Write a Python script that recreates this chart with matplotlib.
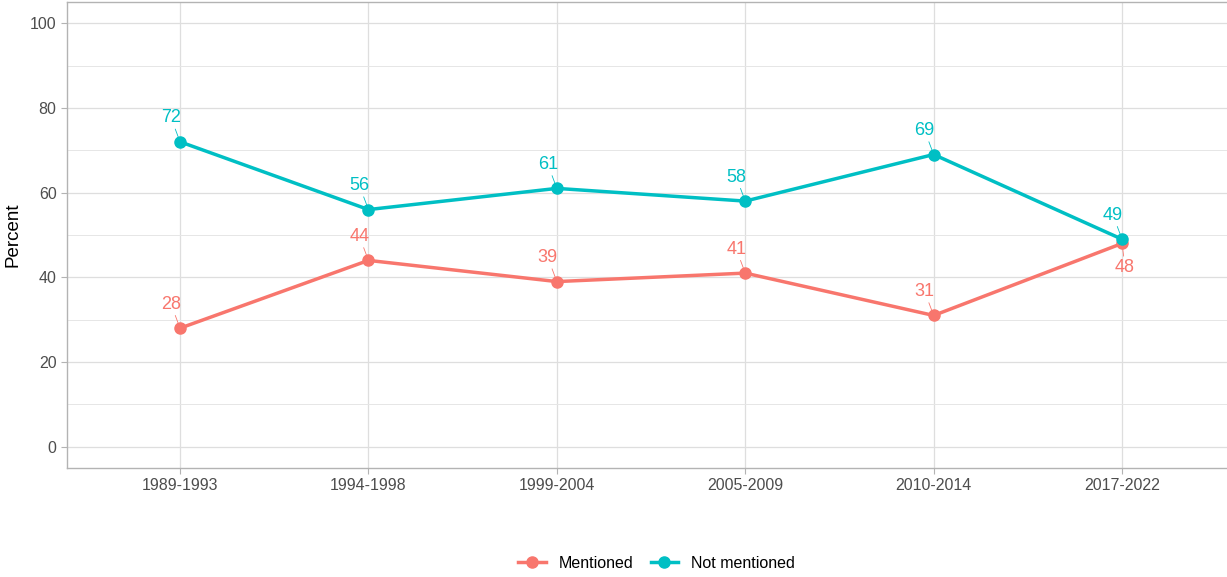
import matplotlib
matplotlib.use("Agg")
import matplotlib.pyplot as plt
from matplotlib.ticker import MultipleLocator

plt.rcParams["font.family"] = ["Liberation Sans", "DejaVu Sans"]

periods = ["1989-1993", "1994-1998", "1999-2004", "2005-2009", "2010-2014", "2017-2022"]
mentioned = [28, 44, 39, 41, 31, 48]
not_mentioned = [72, 56, 61, 58, 69, 49]
COL = {"Mentioned": "#F8766D", "Not mentioned": "#00BFC4"}

fig = plt.figure(figsize=(12.27, 5.77), dpi=100)
ax = fig.add_axes([0.0546, 0.189, 0.952, 0.8075])
x = list(range(1, len(periods) + 1))

for name, vals in [("Mentioned", mentioned), ("Not mentioned", not_mentioned)]:
    c = COL[name]
    ax.plot(x, vals, color=c, lw=2.5, marker="o", ms=8, label=name, zorder=3)
    for i, (xi, v) in enumerate(zip(x, vals)):
        off = (-9, 24)
        if name == "Mentioned" and i == len(x) - 1:
            off = (3, -24)
        ax.annotate(str(v), (xi, v), xytext=off, textcoords="offset pixels",
                    ha="center", va="center", fontsize=13, color=c,
                    arrowprops=dict(arrowstyle="-", color=c, lw=0.6, shrinkA=0, shrinkB=3))

ax.set_xlim(0.4, 6.6)
ax.set_ylim(-5, 105)
ax.set_xticks(x)
ax.set_xticklabels(periods)
ax.yaxis.set_major_locator(MultipleLocator(20))
ax.yaxis.set_minor_locator(MultipleLocator(10))
ax.grid(True, which="major", color="#DEDEDE", lw=0.9)
ax.grid(True, which="minor", axis="y", color="#E6E6E6", lw=0.7)
ax.set_axisbelow(True)
for sp in ax.spines.values():
    sp.set_color("#B3B3B3")
    sp.set_linewidth(1.0)
ax.tick_params(axis="both", which="major", colors="#B3B3B3", labelcolor="#4D4D4D",
               labelsize=11.5, length=4, width=0.8)
ax.tick_params(axis="y", which="minor", length=0)
ax.set_ylabel("Percent", fontsize=13.5, labelpad=6)

fig.legend(loc="lower center", ncol=2, frameon=False, fontsize=11.5,
           bbox_to_anchor=(0.535, -0.014), handlelength=1.7, columnspacing=1.1,
           handletextpad=0.8)
fig.savefig("out.png", dpi=100)
